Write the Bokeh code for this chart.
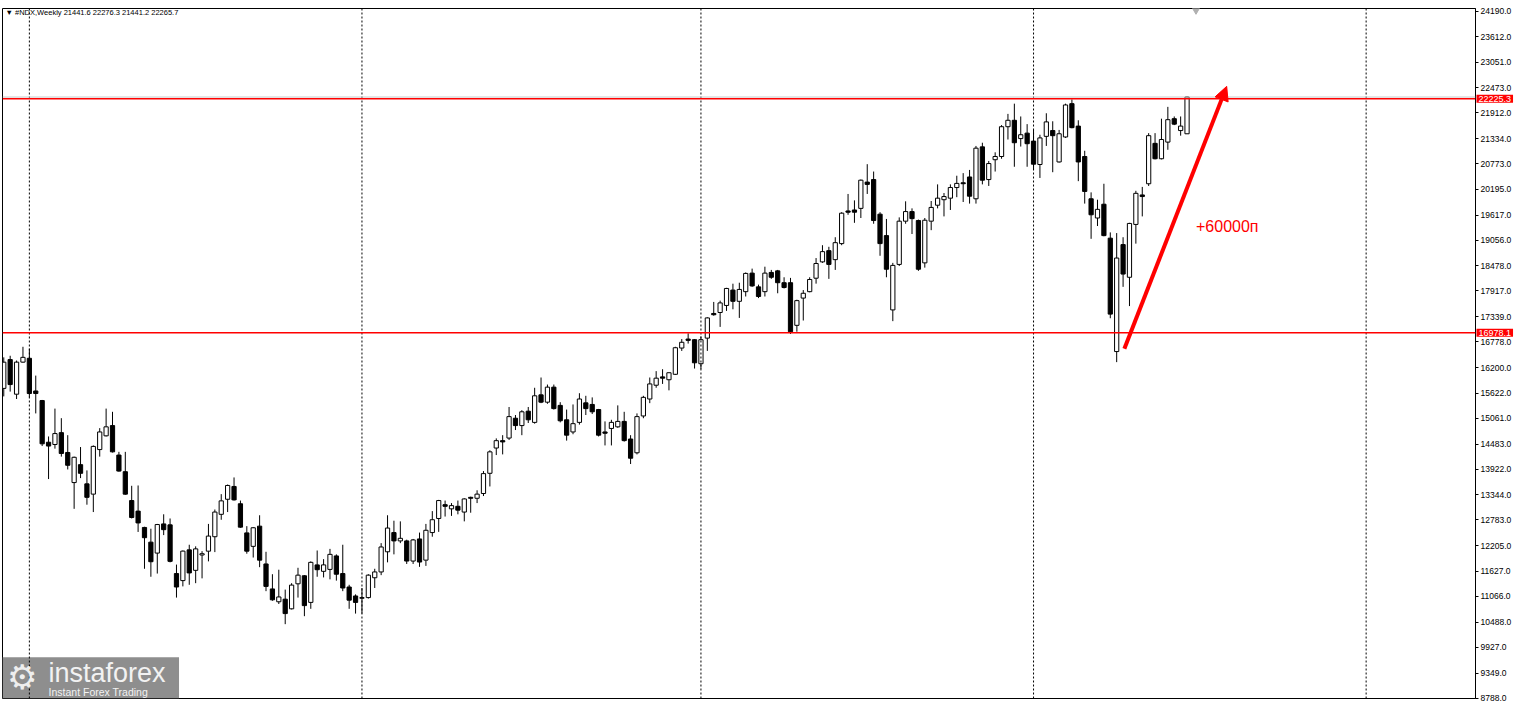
from bokeh.plotting import figure
from bokeh.models import (Range1d, FixedTicker, NumeralTickFormatter, Span, Label,
                          Arrow, NormalHead, ColumnDataSource)
from bokeh.embed import file_html
from bokeh.resources import INLINE

# ---------------- data (weekly NDX candles) ----------------
symbol_title = "\u25BC #NDX,Weekly  21441.6 22276.3 21441.2 22265.7"

opens = [15732, 16378, 15602, 16321, 16407, 15674, 15459, 14525, 14474, 14740,
         14295, 13620, 14022, 13591, 13361, 14360, 14668, 14898, 14237, 13864,
         13217, 12980, 12614, 12284, 12039, 12693, 12672, 11580, 11422, 12111,
         11652, 11996, 12082, 12406, 12908, 13246, 13533, 13145, 12492, 12190,
         12643, 11795, 11235, 10947, 11005, 10789, 11350, 11530, 10933, 11774,
         11630, 11673, 11975, 11580, 11278, 11077, 11026, 11041, 11486, 11616,
         12068, 12499, 12312, 12312, 11860, 12356, 11881, 12499, 12815, 13124,
         13031, 13088, 12959, 13289, 13268, 13375, 13828, 14395, 14560, 14618,
         15063, 14898, 15221, 14970, 15588, 15423, 15760, 15351, 15028, 14755,
         14970, 15408, 15372, 15258, 14755, 14834, 14870, 14992, 14597, 14288,
         15114, 15494, 15803, 15990, 15926, 16048, 16637, 16838, 16824, 16285,
         16859, 17412, 17434, 17592, 17937, 17685, 17901, 18317, 18009, 17901,
         18332, 18368, 18102, 18102, 17146, 17757, 17901, 18203, 18569, 18821,
         18619, 18979, 19711, 19733, 19769, 20358, 20415, 19639, 19158, 17492,
         18512, 19482, 19697, 19496, 18547, 19482, 19840, 19963, 19998, 20236,
         20343, 20473, 19984, 21148, 20415, 20860, 20932, 21600, 21744, 21334,
         21456, 21277, 20753, 21384, 21514, 20810, 21370, 22117, 21614, 20932,
         19984, 19553, 19862, 19101, 16558, 18957, 18224, 19409, 20070, 20321,
         21227, 20882, 21255, 21780, 21514, 21441.6]
highs = [16428, 16464, 16357, 16665, 16622, 16019, 15473, 14654, 15279, 15064,
         14683, 14202, 14417, 13893, 14453, 14841, 15279, 15207, 14309, 14309,
         13548, 13555, 12629, 12585, 12693, 12909, 12815, 11781, 12097, 12226,
         12190, 12082, 12693, 13016, 13361, 13576, 13735, 13217, 12643, 12621,
         12887, 12068, 11565, 11666, 11220, 11364, 11709, 11544, 11853, 12097,
         11903, 12133, 12010, 12226, 11328, 11113, 11256, 11565, 11687, 12262,
         12887, 12765, 12750, 12340, 12356, 12499, 12693, 12980, 13232, 13217,
         13160, 13217, 13268, 13304, 13447, 13878, 14345, 14611, 14683, 15315,
         15135, 15243, 15315, 15746, 15976, 15818, 15818, 15423, 15257, 15372,
         15624, 15566, 15530, 15272, 14992, 15028, 15351, 15207, 14683, 15171,
         15566, 15976, 16119, 16162, 16090, 16665, 16838, 16967, 16838, 16895,
         17326, 17671, 17700, 17987, 18080, 18102, 18332, 18418, 18059, 18461,
         18389, 18389, 18224, 18210, 17721, 17937, 18224, 18655, 18943, 18907,
         19122, 19683, 20092, 19948, 20415, 20760, 20595, 19683, 19532, 18547,
         19567, 19927, 19769, 19518, 19553, 19934, 20307, 20113, 20307, 20501,
         20559, 20631, 21169, 21241, 20832, 21026, 21636, 21888, 22117, 21830,
         21658, 21528, 21420, 21902, 21722, 21528, 22117, 22211, 21744, 21061,
         20128, 19963, 20321, 19230, 19215, 19122, 19445, 20163, 20250, 21456,
         21456, 21780, 22045, 21830, 21830, 22276.3]
lows = [15552, 15660, 15494, 16306, 15530, 15171, 14439, 13699, 14381, 14202,
        13914, 13031, 13720, 13124, 12959, 14202, 14654, 14295, 13864, 13347,
        12815, 12513, 11687, 11508, 11580, 12442, 11831, 11041, 11292, 11328,
        11364, 11472, 11853, 12061, 12786, 12959, 13217, 12607, 12025, 11939,
        11723, 11185, 10969, 10897, 10445, 10775, 11041, 10624, 10789, 11508,
        11493, 11450, 11421, 11185, 10789, 10682, 10682, 11019, 11256, 11544,
        11831, 12010, 12262, 11795, 11795, 11730, 11752, 12406, 12514, 12858,
        12873, 12908, 12750, 12944, 13160, 13318, 13533, 14237, 14252, 14575,
        14798, 14683, 14956, 14941, 15401, 15387, 15257, 14970, 14561, 14704,
        14920, 15135, 15157, 14654, 14453, 14453, 14848, 14539, 14036, 14252,
        15063, 15401, 15746, 15832, 15688, 16033, 16572, 16737, 16177, 16163,
        16572, 17362, 17111, 17470, 17506, 17312, 17793, 18009, 17757, 17793,
        18188, 17865, 17973, 16953, 17003, 17254, 17887, 18081, 18547, 18188,
        18389, 18943, 19625, 19445, 19553, 20092, 19424, 18706, 18224, 17240,
        18476, 19424, 19194, 18368, 18440, 19280, 19769, 19589, 19733, 20020,
        19912, 19876, 19876, 20307, 20272, 20595, 20882, 21313, 20702, 21155,
        20702, 20630, 20451, 21169, 20580, 20796, 21349, 21564, 20379, 19876,
        19086, 19373, 19143, 17305, 16321, 18009, 17578, 18978, 19589, 20271,
        20867, 20867, 21083, 21636, 21399, 21441.2]
closes = [16320, 15818, 16321, 16428, 15617, 15617, 14489, 14439, 14719, 14273,
          14008, 14187, 13828, 13289, 14431, 14755, 14870, 14309, 13878, 13361,
          12837, 12715, 12384, 11845, 12679, 12564, 11853, 11278, 12083, 11594,
          12133, 12025, 12420, 12959, 13210, 13555, 13232, 12621, 12082, 12607,
          11881, 11292, 10991, 11055, 10682, 11321, 11544, 10861, 11831, 11666,
          11774, 12010, 11565, 11256, 10983, 10933, 11041, 11544, 11616, 12176,
          12600, 12312, 12370, 11860, 12334, 11838, 12550, 12787, 13217, 13088,
          13103, 13002, 13253, 13268, 13361, 13821, 14309, 14560, 14532, 15099,
          14898, 15207, 15028, 15566, 15423, 15760, 15279, 15006, 14683, 14941,
          15494, 15279, 15207, 14683, 14726, 14970, 14992, 14561, 14166, 15099,
          15531, 15832, 15961, 15961, 16083, 16644, 16766, 16809, 16306, 16824,
          17312, 17384, 17649, 17973, 17685, 17951, 18310, 18030, 17793, 18317,
          18224, 18102, 17994, 17003, 17700, 17865, 18174, 18533, 18799, 18512,
          19000, 19661, 19683, 19683, 20401, 20307, 19496, 18979, 18404, 18490,
          19482, 19697, 19539, 18404, 19503, 19790, 19998, 20034, 20236, 20329,
          20322, 20042, 21119, 20401, 20774, 20932, 21600, 21744, 21241, 21420,
          21219, 20760, 21349, 21708, 21399, 21442, 22088, 21579, 20810, 20149,
          19625, 19747, 19158, 17398, 18655, 18296, 19431, 20106, 20034, 21399,
          20882, 21313, 21758, 21658, 21614, 22265.7]

# week index of the yearly separators (dotted vertical grid)
year_breaks = [4, 56, 109, 161, 213]
# price scale labels
price_ticks = [24190, 23612, 23051, 22473, 21912, 21334, 20773, 20195, 19617, 19056,
               18478, 17917, 17339, 16778, 16200, 15622, 15061, 14483, 13922, 13344,
               12783, 12205, 11627, 11066, 10488, 9927, 9349, 8788]
# horizontal levels
level_high = 22225.3
level_low = 16978.1
bid_price = 22265.7
# annotation: arrow from (week, price) to (week, price)
arrow_start = (175.2, 16622)
arrow_end = (191.2, 22505)
note_text = "+60000\u043f"
note_pos = (186.4, 19359)

# ---------------- figure ----------------
x_lo, x_hi = -0.2, 230.1
y_lo, y_hi = 8778, 24251

p = figure(width=1514, height=706, x_range=Range1d(x_lo, x_hi), y_range=Range1d(y_lo, y_hi),
           y_axis_location="right", x_axis_location=None,
           output_backend="svg", toolbar_location=None,
           min_border_left=2, min_border_top=0, min_border_bottom=0, min_border_right=0,
           background_fill_color="white", border_fill_color="white")
p.grid.visible = False
p.outline_line_color = "black"
p.outline_line_alpha = 1.0
p.outline_line_width = 1

ax = p.yaxis[0]
ax.ticker = FixedTicker(ticks=price_ticks)
ax.formatter = NumeralTickFormatter(format="0.0")
ax.major_label_text_font = "Liberation Sans"
ax.major_label_text_font_size = "8.5px"
ax.major_label_text_color = "black"
ax.major_tick_out = 3
ax.major_tick_in = 0
ax.minor_tick_out = 0
ax.minor_tick_in = 0
ax.axis_line_color = "black"
ax.major_tick_line_color = "black"
ax.major_label_standoff = 2

# dotted yearly separators
for xb in year_breaks:
    p.add_layout(Span(location=xb, dimension="height", line_color="black",
                      line_dash="2 2", line_width=1))

# logo box (bottom-left)
p.quad(left=[x_lo], right=[27.4], bottom=[y_lo], top=[9704],
       fill_color="#8e8e8e", line_color=None)
p.add_layout(Label(x=0.5, y=y_lo, y_offset=22, text="\u2699", text_color="#eeeeee",
                   text_font="DejaVu Sans", text_font_size="34px",
                   text_baseline="middle", text_align="left"))
p.add_layout(Label(x=7.0, y=y_lo, y_offset=26, text="instaforex", text_color="#f2f2f2",
                   text_font="Liberation Sans", text_font_size="27px",
                   text_baseline="middle", text_align="left"))
p.add_layout(Label(x=7.0, y=y_lo, y_offset=7, text="Instant Forex Trading", text_color="#f2f2f2",
                   text_font="Liberation Sans", text_font_size="10.5px",
                   text_baseline="middle", text_align="left"))

# candles
n = len(opens)
xs = list(range(n))
src = ColumnDataSource(dict(
    x=xs, open=opens, high=highs, low=lows, close=closes,
    top=[max(o, c) for o, c in zip(opens, closes)],
    bottom=[min(o, c) for o, c in zip(opens, closes)],
    fill=["white" if c >= o else "black" for o, c in zip(opens, closes)],
))
p.segment(x0="x", y0="low", x1="x", y1="high", source=src, line_color="black", line_width=1)
p.vbar(x="x", width=0.66, top="top", bottom="bottom", source=src,
       fill_color="fill", line_color="black", line_width=1)

# bid line and red levels
p.add_layout(Span(location=bid_price, dimension="width", line_color="#c8c8c8", line_width=1))
p.add_layout(Span(location=level_high, dimension="width", line_color="#ff0000", line_width=1.5))
p.add_layout(Span(location=level_low, dimension="width", line_color="#ff0000", line_width=1.5))

# price tags on the axis (placed in side panels so they are not clipped by the frame;
# they still use the frame's data scales for their position)
for lv, side in ((level_high, "above"), (level_low, "below")):
    tag = Label(x=x_hi, y=lv, x_offset=1, text=f"{lv:.1f}", text_color="white",
                background_fill_color="#ff0000", text_font="Liberation Sans",
                text_font_size="9px", text_baseline="middle", text_align="left")
    for pad in (dict(x=2, y=1), 2):
        try:
            tag.padding = pad
            break
        except Exception:
            continue
    p.add_layout(tag, side)

# shift marker at top
p.scatter(x=[n + 0.4], y=[y_hi - 40], marker="inverted_triangle", size=7,
          fill_color="#b0b0b0", line_color="#b0b0b0")

# symbol caption
p.add_layout(Label(x=x_lo, y=y_hi, x_offset=3, y_offset=1, text=symbol_title,
                   text_color="black", text_font="Liberation Sans", text_font_size="7.5px",
                   text_baseline="top", text_align="left"))

# red arrow and note
p.add_layout(Arrow(x_start=arrow_start[0], y_start=arrow_start[1],
                   x_end=arrow_end[0], y_end=arrow_end[1],
                   line_color="#ff0000", line_width=4,
                   end=NormalHead(size=14, fill_color="#ff0000", line_color="#ff0000", line_width=1)))
p.add_layout(Label(x=note_pos[0], y=note_pos[1], text=note_text, text_color="#ff0000",
                   text_font="Liberation Sans", text_font_size="16px",
                   text_baseline="middle", text_align="left"))

open("out.html", "w").write(file_html(p, INLINE))
